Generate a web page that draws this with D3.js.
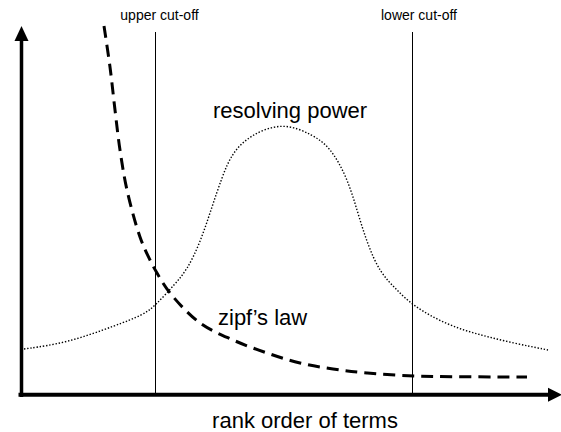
<!DOCTYPE html>
<html>
<head>
<meta charset="utf-8">
<script src="https://cdn.jsdelivr.net/npm/d3@7"></script>
<style>
  html, body { margin: 0; padding: 0; background: #fff; }
  svg { display: block; }
  text { font-family: "Liberation Sans", Arial, sans-serif; fill: #000; }
</style>
</head>
<body>
<div id="chart"></div>
<script>
// ---- data (abstract units: rank along x, value along y) ----
const zipfX = [83, 89, 94, 99, 106, 119, 129, 136, 149, 179, 212, 246, 279, 312, 346, 396, 506];
const zipfY = [369, 328, 285, 245, 205, 158, 135, 122, 102, 72, 55, 42, 32, 26, 22, 19, 18];

const powerX = [3, 46, 96, 122, 134, 154, 166, 179, 190, 201, 211, 229, 262, 292, 309, 326, 336, 346, 359, 376, 392, 426, 459, 492, 527];
const powerY = [46, 52, 70, 80, 89, 111, 125, 152, 185, 218, 242, 260, 273, 260, 248, 218, 185, 152, 122, 105, 89, 70, 60, 52, 45];

const cutoffLabels = ["upper cut-off", "lower cut-off"];
const cutoffX = [134.5, 391.5];

const xAxisTitle = "rank order of terms";
const seriesLabels = ["resolving power", "zipf\u2019s law"];

// ---- layout ----
const W = 561, H = 432;
const svg = d3.select("#chart").append("svg").attr("width", W).attr("height", H);

const x = d3.scaleLinear().domain([0, 540]).range([21, 561]);
const y = d3.scaleLinear().domain([0, 370]).range([395, 25]);

// axes (domain lines only, no ticks)
const xAxis = d3.axisBottom(x).tickValues([]).tickSizeOuter(0);
const yAxis = d3.axisLeft(y).tickValues([]).tickSizeOuter(0);

svg.append("g").attr("transform", `translate(0,${y(0) - 0.3})`).call(xAxis)
  .call(g => g.select(".domain").attr("d", `M${x(-2.5)},0H${x(530)}`).attr("stroke", "#000").attr("stroke-width", 4));
svg.append("g").attr("transform", `translate(${x(0.5)},0)`).call(yAxis)
  .call(g => g.select(".domain").attr("d", `M0,${y(-2)}V${y(355)}`).attr("stroke", "#000").attr("stroke-width", 3.5));

// arrowheads
svg.append("path")
  .attr("d", `M${x(0.5)},${y(369)}L${x(0.5) + 7},${y(354)}L${x(0.5) - 7},${y(354)}Z`)
  .attr("fill", "#000");
svg.append("path")
  .attr("d", `M${x(541)},${y(0) - 0.3}L${x(527)},${y(0) - 7.3}L${x(527)},${y(0) + 6.7}Z`)
  .attr("fill", "#000");

// cut-off lines
svg.selectAll(".cut").data(cutoffX).join("line")
  .attr("x1", d => x(d)).attr("x2", d => x(d))
  .attr("y1", y(363)).attr("y2", y(0))
  .attr("stroke", "#000").attr("stroke-width", 1);

svg.selectAll(".cutlbl").data(cutoffLabels).join("text")
  .attr("x", (d, i) => x(cutoffX[i]) + (i === 0 ? 4 : 6.5))
  .attr("y", 20)
  .attr("text-anchor", "middle")
  .attr("font-size", 14)
  .text(d => d);

// curves
const smooth = d3.line().x(d => x(d[0])).y(d => y(d[1])).curve(d3.curveBasis);
const line = d3.line().x(d => x(d[0])).y(d => y(d[1])).curve(d3.curveCatmullRom.alpha(0.5));

svg.append("path")
  .attr("d", smooth(powerX.map((v, i) => [v, powerY[i]])))
  .attr("fill", "none").attr("stroke", "#000")
  .attr("stroke-width", 1.4).attr("stroke-dasharray", "1.4,1.8");

svg.append("path")
  .attr("d", line(zipfX.map((v, i) => [v, zipfY[i]])))
  .attr("fill", "none").attr("stroke", "#000")
  .attr("stroke-width", 3).attr("stroke-dasharray", "12,7");

// labels
svg.append("text").attr("x", 213).attr("y", 118).attr("font-size", 22).text(seriesLabels[0]);
svg.append("text").attr("x", 218).attr("y", 325).attr("font-size", 22).text(seriesLabels[1]);
svg.append("text").attr("x", 305).attr("y", 428).attr("text-anchor", "middle").attr("font-size", 22).text(xAxisTitle);
</script>
</body>
</html>
